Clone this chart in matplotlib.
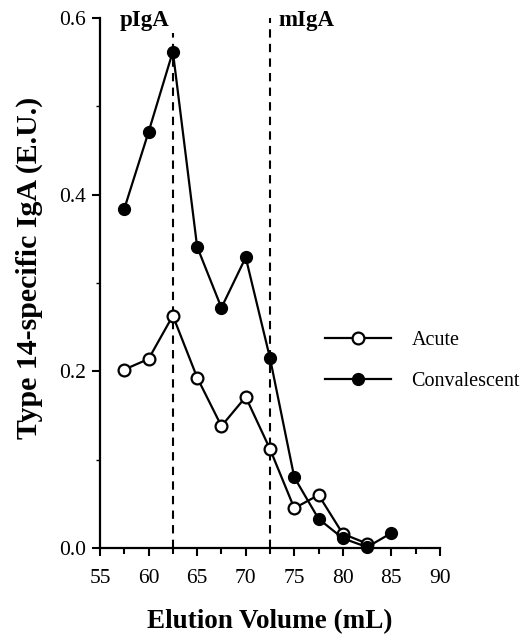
import matplotlib
matplotlib.use("Agg")
import matplotlib.pyplot as plt
from matplotlib.ticker import MultipleLocator

plt.rcParams['font.family'] = ['Liberation Serif', 'DejaVu Serif']

# Data
volume_conv = [57.5, 60, 62.5, 65, 67.5, 70, 72.5, 75, 77.5, 80, 82.5, 85]
convalescent = [0.384, 0.471, 0.562, 0.341, 0.272, 0.329, 0.215, 0.080, 0.033, 0.011, 0.001, 0.017]
volume_acute = [57.5, 60, 62.5, 65, 67.5, 70, 72.5, 75, 77.5, 80, 82.5]
acute = [0.202, 0.214, 0.263, 0.193, 0.138, 0.171, 0.112, 0.045, 0.060, 0.016, 0.005]
peaks = [62.5, 72.5]
peak_labels = ['pIgA', 'mIgA']
x_ticks = [55, 60, 65, 70, 75, 80, 85, 90]
y_ticks = [0.0, 0.2, 0.4, 0.6]

W, H = 526, 644
fig = plt.figure(figsize=(W / 100, H / 100), dpi=100)
ax = fig.add_axes([100 / W, 1 - 548 / H, 340 / W, 530 / H])

ax.axvline(peaks[0], ymin=0, ymax=0.583 / 0.6, color='black', ls=(0, (4, 3)), lw=1.5, zorder=1)
ax.axvline(peaks[1], ymin=0, ymax=1.0, color='black', ls=(0, (4, 3)), lw=1.5, zorder=1)

ax.plot(volume_acute, acute, '-o', color='black', lw=1.6, ms=8.5,
        mfc='white', mec='black', mew=1.6, label='Acute', zorder=3, clip_on=False)
ax.plot(volume_conv, convalescent, '-o', color='black', lw=1.6, ms=8.5,
        mfc='black', mec='black', label='Convalescent', zorder=4, clip_on=False)

ax.text(peaks[0] - 0.4, 0.597, peak_labels[0], ha='right', va='center',
        fontsize=16.5, fontweight='bold')
ax.text(peaks[1] + 0.9, 0.597, peak_labels[1], ha='left', va='center',
        fontsize=16.5, fontweight='bold')

ax.set_xlim(55, 90)
ax.set_ylim(0, 0.6)
ax.set_xticks(x_ticks)
ax.set_yticks(y_ticks)
ax.set_xticklabels([str(t) for t in x_ticks])
ax.set_yticklabels([f'{t:.1f}' for t in y_ticks])
ax.xaxis.set_minor_locator(MultipleLocator(2.5))
ax.yaxis.set_minor_locator(MultipleLocator(0.1))

for s in ['top', 'right']:
    ax.spines[s].set_visible(False)
for s in ['left', 'bottom']:
    ax.spines[s].set_linewidth(1.6)

ax.tick_params(axis='both', which='major', direction='out', length=6, width=1.5,
               labelsize=15.5)
ax.tick_params(axis='x', which='major', pad=9)
ax.tick_params(axis='y', which='major', pad=4)
ax.tick_params(axis='x', which='minor', direction='out', length=4.5, width=1.5)
ax.tick_params(axis='y', which='minor', direction='out', length=3, width=1.0)

ax.set_xlabel('Elution Volume (mL)', fontsize=19.5, fontweight='bold', labelpad=15)
ax.set_ylabel('Type 14-specific IgA (E.U.)', fontsize=21.5, fontweight='bold')
ax.yaxis.set_label_coords((43 - 100) / 340, (548 - 268) / 530)

leg = ax.legend(loc='upper left', bbox_to_anchor=(325 / W, 1 - 331 / H),
                bbox_transform=fig.transFigure, frameon=False, fontsize=14.5,
                handlelength=3.3, handletextpad=1.0, labelspacing=1.1,
                borderpad=0, borderaxespad=0)

fig.savefig('out.png', dpi=100)
